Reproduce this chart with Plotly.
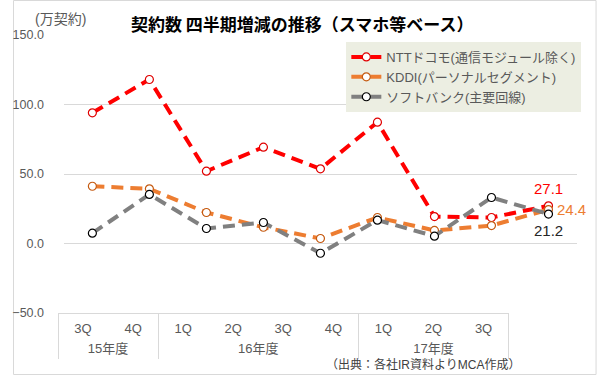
import plotly.graph_objects as go

quarters = ["3Q", "4Q", "1Q", "2Q", "3Q", "4Q", "1Q", "2Q", "3Q"]
year_labels = ["15年度", "16年度", "17年度"]
year_counts = [2, 4, 3]
ntt = [94.0, 118.0, 52.0, 69.3, 53.7, 87.3, 19.4, 18.7, 27.1]
kddi = [41.2, 39.3, 22.3, 11.7, 3.6, 18.7, 9.4, 12.9, 24.4]
softbank = [7.4, 35.3, 10.8, 15.1, -7.0, 16.8, 5.3, 33.1, 21.2]
names = ["NTTドコモ(通信モジュール除く)", "KDDI(パーソナルセグメント)", "ソフトバンク(主要回線)"]
line_colors = ["#FF0000", "#ED7D31", "#808080"]
marker_colors = ["#E00000", "#C55A11", "#000000"]
label_colors = ["#FF0000", "#ED7D31", "#262626"]

FONT = "Liberation Sans, Arial, Noto Sans CJK JP, sans-serif"
W, H = 597, 375
ML, MR, MT, MB = 46, 20, 35, 62
PW = W - ML - MR
PH = H - MT - MB

idx = list(range(len(quarters)))
# group boundaries and centres derived from the year counts
bounds = [-0.5]
for c in year_counts:
    bounds.append(bounds[-1] + c)
centres = [(bounds[i] + bounds[i + 1]) / 2 for i in range(len(year_counts))]

fig = go.Figure()
for name, vals, lc, mc in zip(names, [ntt, kddi, softbank], line_colors, marker_colors):
    fig.add_trace(go.Scatter(
        x=idx, y=vals, name=name, mode="lines+markers",
        line=dict(color=lc, width=4, dash="12px,7px"),
        marker=dict(symbol="circle", size=8, color="white", line=dict(color=mc, width=1.2)),
        hoverinfo="skip",
    ))

# invisible carriers for the category-label axes
for xa in ["x2", "x3"]:
    fig.add_trace(go.Scatter(
        x=idx, y=[None] * len(idx), xaxis=xa, yaxis="y2",
        mode="lines", line=dict(width=0), showlegend=False, hoverinfo="skip",
    ))

series = [ntt, kddi, softbank]
last = len(quarters) - 1
fig.add_annotation(x=last, y=series[0][last], text=f"{series[0][last]:.1f}", showarrow=False,
                   yshift=17, font=dict(color=label_colors[0], size=15, family=FONT))
fig.add_annotation(x=last, y=series[1][last], text=f"{series[1][last]:.1f}", showarrow=False,
                   xanchor="left", xshift=7, font=dict(color=label_colors[1], size=15, family=FONT))
fig.add_annotation(x=last, y=series[2][last], text=f"{series[2][last]:.1f}", showarrow=False,
                   yshift=-16, font=dict(color=label_colors[2], size=15, family=FONT))

fig.add_annotation(xref="paper", yref="paper", x=(49 - ML) / PW, y=1 + (MT - 19) / PH,
                   text="(万契約)", showarrow=False, xanchor="center", yanchor="middle",
                   font=dict(color="#595959", size=14, family=FONT))
fig.add_annotation(xref="paper", yref="paper", x=(296 - ML) / PW, y=1 + (MT - 23) / PH,
                   text="<b>契約数 四半期増減の推移（スマホ等ベース）</b>", showarrow=False,
                   xanchor="center", yanchor="middle",
                   font=dict(color="#000000", size=17, family="Noto Sans CJK JP"))
fig.add_annotation(xref="paper", yref="paper", x=(521 - ML) / PW, y=-(364 - MT - PH) / PH,
                   text="（出典：各社IR資料よりMCA作成）", showarrow=False,
                   xanchor="right", yanchor="middle",
                   font=dict(color="#404040", size=12, family=FONT))

fig.add_shape(type="rect", xref="paper", yref="paper",
              x0=-(ML - 0.5) / PW, x1=1 + (MR - 0.5) / PW,
              y0=-(MB - 0.5) / PH, y1=1 + (MT - 0.5) / PH,
              line=dict(color="#D9D9D9", width=1), layer="below")

cat_dom = [0, (507 - ML) / PW]
fig.update_layout(
    width=W, height=H,
    margin=dict(l=ML, r=MR, t=MT, b=MB, pad=0),
    paper_bgcolor="white", plot_bgcolor="rgba(0,0,0,0)",
    font=dict(family=FONT, color="#595959", size=13),
    showlegend=True,
    legend=dict(x=(341 - ML) / PW, y=1 - (42 - MT) / PH, xanchor="left", yanchor="top",
                bgcolor="#ECEEE2", font=dict(size=13, color="#595959", family=FONT),
                tracegroupgap=0, itemwidth=30),
    xaxis=dict(domain=[(52 - ML) / PW, 1], range=[-0.5, 8.5], showticklabels=False,
               showgrid=False, zeroline=False, showline=False, ticks=""),
    xaxis2=dict(domain=cat_dom, anchor="y2", range=[-0.5, 8.5],
                tickmode="array", tickvals=idx, ticktext=quarters,
                showline=True, linecolor="#D9D9D9", linewidth=1,
                showgrid=False, zeroline=False, ticks="", ticklabelstandoff=3,
                minor=dict(tickmode="array", tickvals=bounds, ticks="outside", ticklen=45,
                           tickcolor="#D9D9D9", tickwidth=1, showgrid=False),
                tickfont=dict(size=13, color="#595959", family=FONT)),
    xaxis3=dict(domain=cat_dom, anchor="y2", overlaying="x2", range=[-0.5, 8.5],
                tickmode="array", tickvals=centres, ticktext=year_labels,
                showline=False, showgrid=False, zeroline=False, ticks="",
                ticklabelstandoff=26, side="bottom",
                tickfont=dict(size=13, color="#595959", family=FONT)),
    yaxis=dict(range=[-50, 150], tickmode="array", tickvals=[0, 50, 100, 150],
               tickformat=".1f", showgrid=True,
               gridcolor="#D9D9D9", gridwidth=1, zeroline=False, showline=False,
               ticks="", ticklabelstandoff=19,
               tickfont=dict(size=12.5, color="#595959", family=FONT)),
    yaxis2=dict(range=[-50, 150], overlaying="y", anchor="x2", showgrid=False,
                tickmode="array", tickvals=[-50], tickformat=".1f",
                zeroline=False, showline=False, ticks="", ticklabelstandoff=13,
                tickfont=dict(size=12.5, color="#595959", family=FONT)),
)

fig.write_html("out.html", config={"displayModeBar": False},
               post_script="document.body.style.margin='0px';")
